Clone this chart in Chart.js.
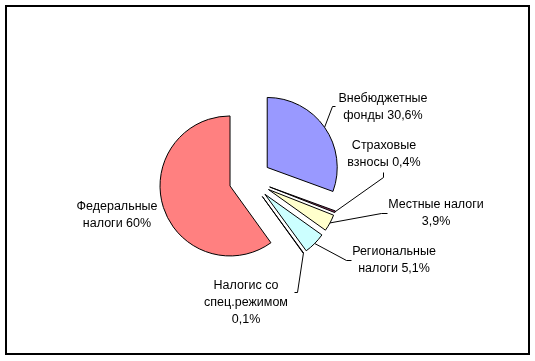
<!DOCTYPE html>
<html>
<head>
<meta charset="utf-8">
<script src="https://cdn.jsdelivr.net/npm/chart.js@4"></script>
<style>
  body { margin: 0; background: #fff; }
  canvas { display: block; }
</style>
</head>
<body>
<canvas id="myChart" width="535" height="361"></canvas>
<script>
const categories = [
  "Внебюджетные фонды",
  "Страховые взносы",
  "Местные налоги",
  "Региональные налоги",
  "Налогис со спец.режимом",
  "Федеральные налоги"
];
const values = [30.6, 0.4, 3.9, 5.1, 0.1, 60];
const valueLabels = ["30,6%", "0,4%", "3,9%", "5,1%", "0,1%", "60%"];

// label text lines (real text) and where they sit
const labelLines = [
  ["Внебюджетные", "фонды " + valueLabels[0]],
  ["Страховые", "взносы " + valueLabels[1]],
  ["Местные налоги", valueLabels[2]],
  ["Региональные", "налоги " + valueLabels[3]],
  ["Налогис со", "спец.режимом", valueLabels[4]],
  ["Федеральные", "налоги " + valueLabels[5]]
];
const labelLayout = [
  { x: 383, y: 99, lead: [[332, 106], [335, 106]] },
  { x: 384, y: 146, lead: [[383, 177], [383, 172]] },
  { x: 436, y: 205, lead: [[381, 213], [387, 213]] },
  { x: 394, y: 252, lead: [[346, 260], [351, 260]] },
  { x: 246, y: 286, lead: [[297, 292], [294, 292]] },
  { x: 117, y: 207, lead: null }
];

const colors = ["#9999FF", "#993366", "#FFFFCC", "#CCFFFF", "#660066", "#FF8080"];
const EXPLODE = 21;

// push every slice out along its middle angle (excel style exploded pie)
const explodePie = {
  id: "explodePie",
  afterDatasetUpdate(chart, args) {
    args.meta.data.forEach(arc => {
      const mid = (arc.startAngle + arc.endAngle) / 2;
      arc.x += Math.cos(mid) * EXPLODE;
      arc.y += Math.sin(mid) * EXPLODE;
    });
  }
};

const frameAndLabels = {
  id: "frameAndLabels",
  afterDraw(chart) {
    const ctx = chart.ctx;
    ctx.save();
    ctx.strokeStyle = "#000";
    ctx.lineWidth = 2;
    ctx.strokeRect(6, 6, 523, 348);

    const arcs = chart.getDatasetMeta(0).data;
    ctx.lineWidth = 1;
    ctx.font = '12.5px "Liberation Sans", Arial, sans-serif';
    ctx.fillStyle = "#000";
    ctx.textAlign = "center";
    ctx.textBaseline = "middle";
    arcs.forEach((arc, i) => {
      const lay = labelLayout[i];
      if (lay.lead) {
        const mid = (arc.startAngle + arc.endAngle) / 2;
        const sx = arc.x + Math.cos(mid) * arc.outerRadius;
        const sy = arc.y + Math.sin(mid) * arc.outerRadius;
        ctx.beginPath();
        ctx.moveTo(sx, sy);
        lay.lead.forEach(p => ctx.lineTo(p[0] + 0.5, p[1] + 0.5));
        ctx.stroke();
      }
      labelLines[i].forEach((t, k) => {
        ctx.fillText(t, lay.x, lay.y + k * 17);
      });
    });
    ctx.restore();
  }
};

new Chart(document.getElementById("myChart"), {
  type: "pie",
  data: {
    labels: categories,
    datasets: [
      {
        data: values,
        backgroundColor: colors,
        borderColor: "#000",
        borderWidth: 1,
        hoverOffset: 0
      }
    ]
  },
  options: {
    responsive: false,
    animation: false,
    radius: 70,
    rotation: 0,
    layout: { padding: { left: 100, right: 135, top: 59, bottom: 61 } },
    plugins: {
      legend: { display: false },
      tooltip: { enabled: false }
    }
  },
  plugins: [explodePie, frameAndLabels]
});
</script>
</body>
</html>
